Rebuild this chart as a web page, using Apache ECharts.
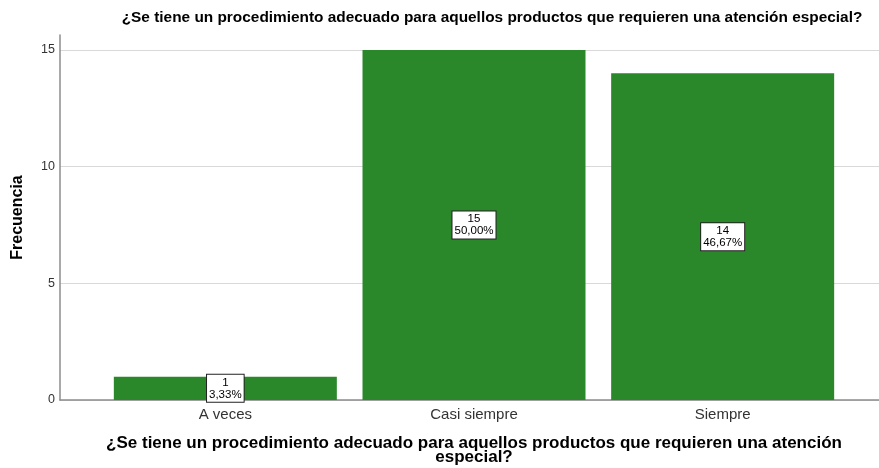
<!DOCTYPE html>
<html>
<head>
<meta charset="utf-8">
<script src="https://cdn.jsdelivr.net/npm/echarts@6/dist/echarts.min.js"></script>
<style>
  html, body { margin: 0; padding: 0; background: #fff; }
  #chart { width: 879px; height: 468px; }
</style>
</head>
<body>
<div id="chart"></div>
<script>
const categories = ['A veces', 'Casi siempre', 'Siempre']
const counts = [1, 15, 14]
const percents = ['3,33%', '50,00%', '46,67%']
const yTicks = [0, 5, 10, 15]

const question = '¿Se tiene un procedimiento adecuado para aquellos productos que requieren una atención especial?'
const font = 'Liberation Sans, Arial, sans-serif'
const yMax = 15.64

const option = {
  animation: false,
  textStyle: { fontFamily: font },
  title: {
    text: question,
    left: 487,
    top: 5,
    textAlign: 'center',
    textStyle: { fontSize: 15.4, fontWeight: 'bold', color: '#000', fontFamily: font }
  },
  grid: [
    { left: 60, right: 0, top: 35, bottom: 68, outerBoundsMode: 'none' },
    { left: 101, right: 32, top: 35, bottom: 68, outerBoundsMode: 'none' }
  ],
  xAxis: [
    {
      gridIndex: 0,
      type: 'value',
      min: 0,
      max: 1,
      axisLine: { show: true, lineStyle: { color: '#8c8c8c', width: 1.5 } },
      axisTick: { show: false },
      axisLabel: { show: false },
      splitLine: { show: false }
    },
    {
      gridIndex: 1,
      type: 'category',
      data: categories,
      axisLine: { show: false },
      axisTick: { show: false },
      axisLabel: { fontSize: 15, color: '#333', margin: 7 },
      name: question.replace('atención ', 'atención\n'),
      nameLocation: 'middle',
      nameGap: 36,
      nameTextStyle: { fontSize: 17, fontWeight: 'bold', color: '#000', lineHeight: 14 }
    }
  ],
  yAxis: [
    {
      gridIndex: 0,
      type: 'value',
      min: 0,
      max: yMax,
      interval: 5,
      axisLine: { show: true, lineStyle: { color: '#8c8c8c', width: 1.5 } },
      axisTick: { show: false },
      axisLabel: {
        fontSize: 12.5,
        color: '#333',
        margin: 5,
        showMaxLabel: false,
        formatter: v => (yTicks.includes(v) ? String(v) : '')
      },
      splitLine: { show: true, showMaxLine: false, lineStyle: { color: '#d9d9d9', width: 1 } },
      name: 'Frecuencia',
      nameLocation: 'middle',
      nameGap: 34,
      nameTextStyle: { fontSize: 16, fontWeight: 'bold', color: '#000' }
    },
    {
      gridIndex: 1,
      type: 'value',
      min: 0,
      max: yMax,
      show: false
    }
  ],
  series: [
    {
      type: 'bar',
      xAxisIndex: 1,
      yAxisIndex: 1,
      data: counts,
      barWidth: 223,
      itemStyle: { color: '#2a872a' },
      label: {
        show: true,
        position: 'inside',
        formatter: p => p.value + '\n' + percents[p.dataIndex],
        backgroundColor: '#fff',
        borderColor: '#222',
        borderWidth: 1,
        padding: [2, 2, 1, 2],
        fontSize: 11.5,
        lineHeight: 12,
        color: '#000'
      }
    }
  ]
}

const chart = echarts.init(document.getElementById('chart'))
chart.setOption(option)
</script>
</body>
</html>
